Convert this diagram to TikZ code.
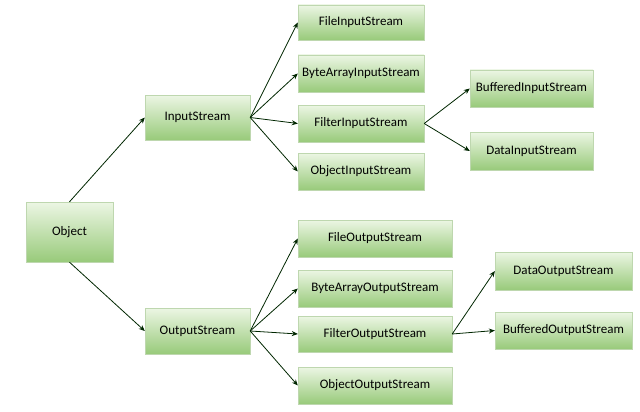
\documentclass[tikz,border=0pt]{standalone}
\usepackage{fontspec}
\setmainfont{Carlito}
\usetikzlibrary{arrows.meta}
\definecolor{gtop}{RGB}{236,246,228}
\definecolor{gbot}{RGB}{152,202,122}
\definecolor{gbd}{RGB}{190,215,175}
\begin{document}
\begin{tikzpicture}[x=1pt,y=-1pt,
 box/.style={draw=gbd,top color=gtop,bottom color=gbot,font=\fontsize{13}{15}\selectfont,inner sep=0pt},
 arr/.style={draw=black!85!green,-{Stealth[length=6pt,width=5pt]},line width=0.8pt}]
\useasboundingbox (0,0) rectangle (640,412);
\newcommand{\bx}[6]{\node[box,minimum width=#4-#2,minimum height=#5-#3] (#1) at ({(#2+#4)/2},{(#3+#5)/2}) {#6};}
\bx{obj}{26}{202}{113}{262}{Object}
\bx{is}{145}{95}{250}{140}{InputStream}
\bx{os}{145}{308}{250}{354}{OutputStream}
\bx{fis}{298}{5}{424}{40}{FileInputStream}
\bx{bais}{298}{55}{424}{92}{ByteArrayInputStream}
\bx{filis}{298}{105}{424}{142}{FilterInputStream}
\bx{ois}{298}{153}{424}{190}{ObjectInputStream}
\bx{bis}{470}{70}{593}{107}{BufferedInputStream}
\bx{dis}{470}{132}{593}{170}{DataInputStream}
\bx{fos}{298}{220}{452}{257}{FileOutputStream}
\bx{baos}{298}{270}{452}{307}{ByteArrayOutputStream}
\bx{filos}{298}{316}{452}{352}{FilterOutputStream}
\bx{oos}{298}{367}{452}{404}{ObjectOutputStream}
\bx{dos}{495}{252}{632}{290}{DataOutputStream}
\bx{bos}{495}{312}{632}{349}{BufferedOutputStream}
\draw[arr] (obj.north) -- (is.west);
\draw[arr] (obj.south) -- (os.west);
\foreach \t in {fis,bais,filis,ois} \draw[arr] (is.east) -- (\t.west);
\foreach \t in {fos,baos,filos,oos} \draw[arr] (os.east) -- (\t.west);
\foreach \t in {bis,dis} \draw[arr] (filis.east) -- (\t.west);
\foreach \t in {dos,bos} \draw[arr] (filos.east) -- (\t.west);
\end{tikzpicture}
\end{document}
